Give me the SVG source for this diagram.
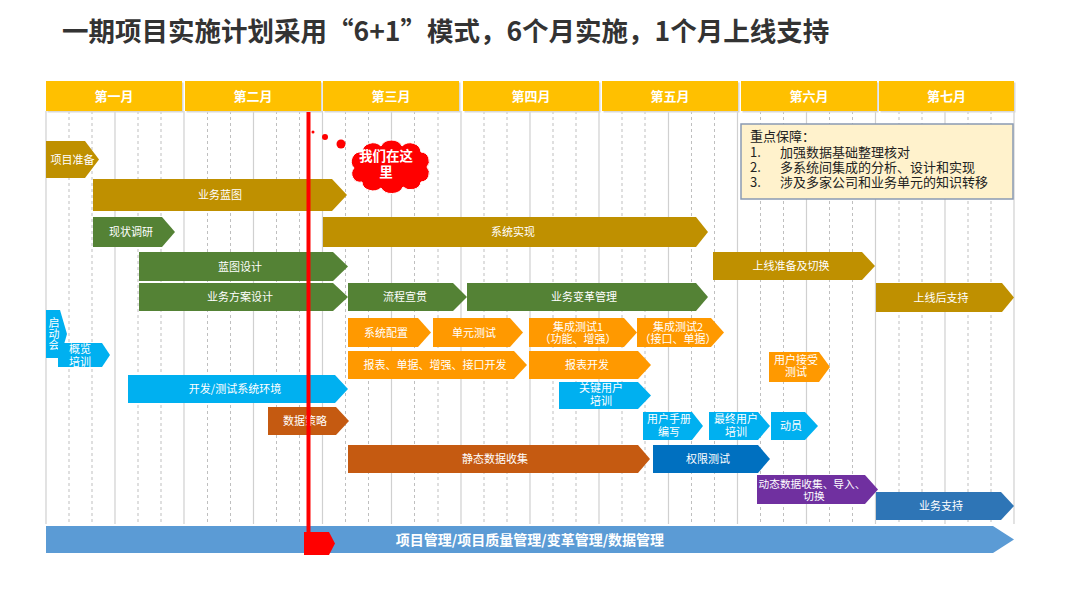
<svg xmlns="http://www.w3.org/2000/svg" width="1080" height="608" viewBox="0 0 1080 608">
<defs>
<style>
.t{font-family:"Noto Sans CJK SC","Noto Sans",sans-serif;font-size:11px;fill:#fff;text-anchor:middle}
.h{font-family:"Noto Sans CJK SC","Noto Sans",sans-serif;font-size:13px;font-weight:bold;fill:#fff;text-anchor:middle}
.n{font-family:"Noto Sans CJK SC","Noto Sans",sans-serif;font-size:13px;fill:#222}
.gold{fill:#BF9000}.green{fill:#548235}.orange{fill:#FF9900}.cyan{fill:#00B0F0}
.rust{fill:#C55A11}.dblue{fill:#0070C0}.purple{fill:#7030A0}.mblue{fill:#2E75B6}.lblue{fill:#5B9BD5}
.hdr{fill:#FFC000}
</style>
</defs>
<rect width="1080" height="608" fill="#fff"/>
<text x="62" y="41" font-family="Noto Sans CJK SC,Noto Sans,sans-serif" font-size="26.5" font-weight="bold" fill="#333">一期项目实施计划采用“6+1”模式，6个月实施，1个月上线支持</text>

<g id="grid">
<path stroke="#D0D0D0" stroke-width="1.2" fill="none" d="M46 111V524M115 111V524M184 111V524M253.5 111V524M322.5 111V524M391.5 111V524M461 111V524M530 111V524M599 111V524M668.5 111V524M737.5 111V524M806.5 111V524M875.5 111V524M945 111V524M1014 111V524"/>
<path stroke="#BFBFBF" stroke-width="1" stroke-dasharray="3 3" fill="none" d="M69 111V524M92 111V524M138 111V524M161 111V524M207.5 111V524M230.5 111V524M276.5 111V524M299.5 111V524M345.5 111V524M368.5 111V524M414.5 111V524M438 111V524M484 111V524M507 111V524M553 111V524M576 111V524M622 111V524M645 111V524M691.5 111V524M714.5 111V524M760.5 111V524M783.5 111V524M829.5 111V524M852.5 111V524M899 111V524M922 111V524M968 111V524M991 111V524"/>
</g>

<g id="months">
<g fill="#D8D8D8"><rect x="47.5" y="82.5" width="136" height="30"/><rect x="186.5" y="82.5" width="136" height="30"/><rect x="324.5" y="82.5" width="136" height="30"/><rect x="464.5" y="82.5" width="136" height="30"/><rect x="603.5" y="82.5" width="136" height="30"/><rect x="742.5" y="82.5" width="136" height="30"/><rect x="880.5" y="82.5" width="135" height="30"/></g>
<g id="m1"><rect class="hdr" x="46" y="81" width="136" height="30"/><text class="h" x="114" y="101">第一月</text></g>
<g id="m2"><rect class="hdr" x="185" y="81" width="136" height="30"/><text class="h" x="253" y="101">第二月</text></g>
<g id="m3"><rect class="hdr" x="323" y="81" width="136" height="30"/><text class="h" x="391" y="101">第三月</text></g>
<g id="m4"><rect class="hdr" x="463" y="81" width="136" height="30"/><text class="h" x="531" y="101">第四月</text></g>
<g id="m5"><rect class="hdr" x="602" y="81" width="136" height="30"/><text class="h" x="670" y="101">第五月</text></g>
<g id="m6"><rect class="hdr" x="741" y="81" width="136" height="30"/><text class="h" x="809" y="101">第六月</text></g>
<g id="m7"><rect class="hdr" x="879" y="81" width="135" height="30"/><text class="h" x="946.5" y="101">第七月</text></g>
</g>

<g id="note">
<rect x="741" y="124" width="272" height="75" fill="#FFF2CC" stroke="#8A9AB3" stroke-width="1.5"/>
<text class="n" x="750" y="141">重点保障：</text>
<text class="n" x="750" y="157">1.<tspan x="780">加强数据基础整理核对</tspan></text>
<text class="n" x="750" y="172">2.<tspan x="780">多系统间集成的分析、设计和实现</tspan></text>
<text class="n" x="750" y="187">3.<tspan x="780">涉及多家公司和业务单元的知识转移</tspan></text>
</g>

<g id="tasks">
<g id="t1"><polygon class="gold" points="46,141 85,141 99,159.5 85,178 46,178"/><text class="t" x="72.5" y="163.5">项目准备</text></g>
<g id="t2"><polygon class="gold" points="93,179 332,179 347,195 332,211 93,211"/><text class="t" x="220" y="199">业务蓝图</text></g>
<g id="t3"><polygon class="green" points="93,217 162,217 175,232 162,247 93,247"/><text class="t" x="131" y="236">现状调研</text></g>
<g id="t4"><polygon class="gold" points="323,217 696,217 708,232 696,247 323,247"/><text class="t" x="513" y="236">系统实现</text></g>
<g id="t5"><polygon class="green" points="139,252 333,252 348,266.5 333,281 139,281"/><text class="t" x="240" y="270.5">蓝图设计</text></g>
<g id="t6"><polygon class="gold" points="713,252 862,252 875,266 862,280 713,280"/><text class="t" x="791" y="270">上线准备及切换</text></g>
<g id="t7"><polygon class="green" points="139,283 333,283 348,297 333,311 139,311"/><text class="t" x="240" y="301">业务方案设计</text></g>
<g id="t8"><polygon class="green" points="348,283 453,283 467,297 453,311 348,311"/><text class="t" x="405" y="301">流程宣贯</text></g>
<g id="t9"><polygon class="green" points="467,283 696,283 708,297 696,311 467,311"/><text class="t" x="584" y="301">业务变革管理</text></g>
<g id="t10"><polygon class="gold" points="876,283 1002,283 1014,297.5 1002,312 876,312"/><text class="t" x="941" y="301.5">上线后支持</text></g>
<g id="t11"><polygon class="cyan" points="46,310 60,310 67,334 60,358 46,358"/><text class="t" x="54" y="334" writing-mode="tb" style="writing-mode:vertical-rl">启动会</text></g>
<g id="t12"><polygon class="cyan" points="58,343 102,343 110,355 102,367 58,367"/><text class="t" x="80" y="353">概览<tspan x="80" dy="13">培训</tspan></text></g>
<g id="t13"><polygon class="orange" points="348,318 418,318 431,332.5 418,347 348,347"/><text class="t" x="386" y="336.5">系统配置</text></g>
<g id="t14"><polygon class="orange" points="433,318 510,318 523,332.5 510,347 433,347"/><text class="t" x="474" y="336.5">单元测试</text></g>
<g id="t15"><polygon class="orange" points="529,318 624,318 637,332.5 624,347 529,347"/><text class="t" x="578" y="330.5">集成测试1<tspan x="578" dy="12">（功能、增强）</tspan></text></g>
<g id="t16"><polygon class="orange" points="637,318 711,318 724,332.5 711,347 637,347"/><text class="t" x="678" y="330.5">集成测试2<tspan x="678" dy="12">（接口、单据）</tspan></text></g>
<g id="t17"><polygon class="orange" points="348,351 514,351 527,365 514,379 348,379"/><text class="t" x="435" y="369">报表、单据、增强、接口开发</text></g>
<g id="t18"><polygon class="orange" points="529,351 638,351 651,365 638,379 529,379"/><text class="t" x="587" y="369">报表开发</text></g>
<g id="t19"><polygon class="orange" points="769,352 819,352 830,367 819,382 769,382"/><text class="t" x="796" y="363.5">用户接受<tspan x="796" dy="12.5">测试</tspan></text></g>
<g id="t20"><polygon class="cyan" points="128,375 335,375 348,389 335,403 128,403"/><text class="t" x="235" y="393">开发/测试系统环境</text></g>
<g id="t21"><polygon class="cyan" points="559,382 638,382 651,395.5 638,409 559,409"/><text class="t" x="601" y="392">关键用户<tspan x="601" dy="13">培训</tspan></text></g>
<g id="t22"><polygon class="rust" points="268,407 336,407 349,421 336,435 268,435"/><text class="t" x="305" y="425">数据策略</text></g>
<g id="t23"><polygon class="cyan" points="643,412 692,412 703,426 692,440 643,440"/><text class="t" x="669" y="422.5">用户手册<tspan x="669" dy="13.5">编写</tspan></text></g>
<g id="t24"><polygon class="cyan" points="709,412 758,412 770,426 758,440 709,440"/><text class="t" x="736" y="422.5">最终用户<tspan x="736" dy="13.5">培训</tspan></text></g>
<g id="t25"><polygon class="cyan" points="771,412 805,412 818,426 805,440 771,440"/><text class="t" x="791" y="430">动员</text></g>
<g id="t26"><polygon class="rust" points="348,445 638,445 650,459 638,473 348,473"/><text class="t" x="495" y="463">静态数据收集</text></g>
<g id="t27"><polygon class="dblue" points="653,445 758,445 770,459 758,473 653,473"/><text class="t" x="708" y="463">权限测试</text></g>
<g id="t28"><polygon class="purple" points="757,475 865,475 878,489.5 865,504 757,504"/><text class="t" x="812" y="487.5" style="font-size:10.7px">动态数据收集、导入、<tspan x="814" dy="12.5">切换</tspan></text></g>
<g id="t29"><polygon class="mblue" points="876,492 1001,492 1014,506 1001,520 876,520"/><text class="t" x="941" y="510">业务支持</text></g>
<g id="t30"><polygon class="lblue" points="46,526 993,526 1014,539.5 993,553 46,553"/><text class="t" x="530" y="544.5" style="font-size:14px;font-weight:bold">项目管理/项目质量管理/变革管理/数据管理</text></g>
</g>

<g id="marker">
<rect x="306.5" y="112" width="4" height="430" fill="#FF0000"/>
<polygon points="304,532 329,532 335,543.5 329,555 304,555" fill="#FF0000"/>
<circle cx="313" cy="132" r="1.5" fill="#FF0000"/>
<circle cx="325" cy="137" r="3" fill="#FF0000"/>
<circle cx="341" cy="144" r="4.5" fill="#FF0000"/>
</g>

<g id="cloud">
<path fill="#FF0000" stroke="#fff" stroke-width="1" d="M354,168 A9.5,9.5 0 0,1 362,152 A11,10 0 0,1 381,146 A11.5,10 0 0,1 402,146 A11,10 0 0,1 421,152 A9,9 0 0,1 427,167 A9,9 0 0,1 421,182 A10.5,9 0 0,1 403,187 A12,10 0 0,1 381,188 A11,9 0 0,1 362,182 A8.5,8.5 0 0,1 354,168 Z"/>
<text class="h" x="386" y="161" style="font-size:13.5px">我们在这<tspan x="386" dy="16">里</tspan></text>
</g>
</svg>
